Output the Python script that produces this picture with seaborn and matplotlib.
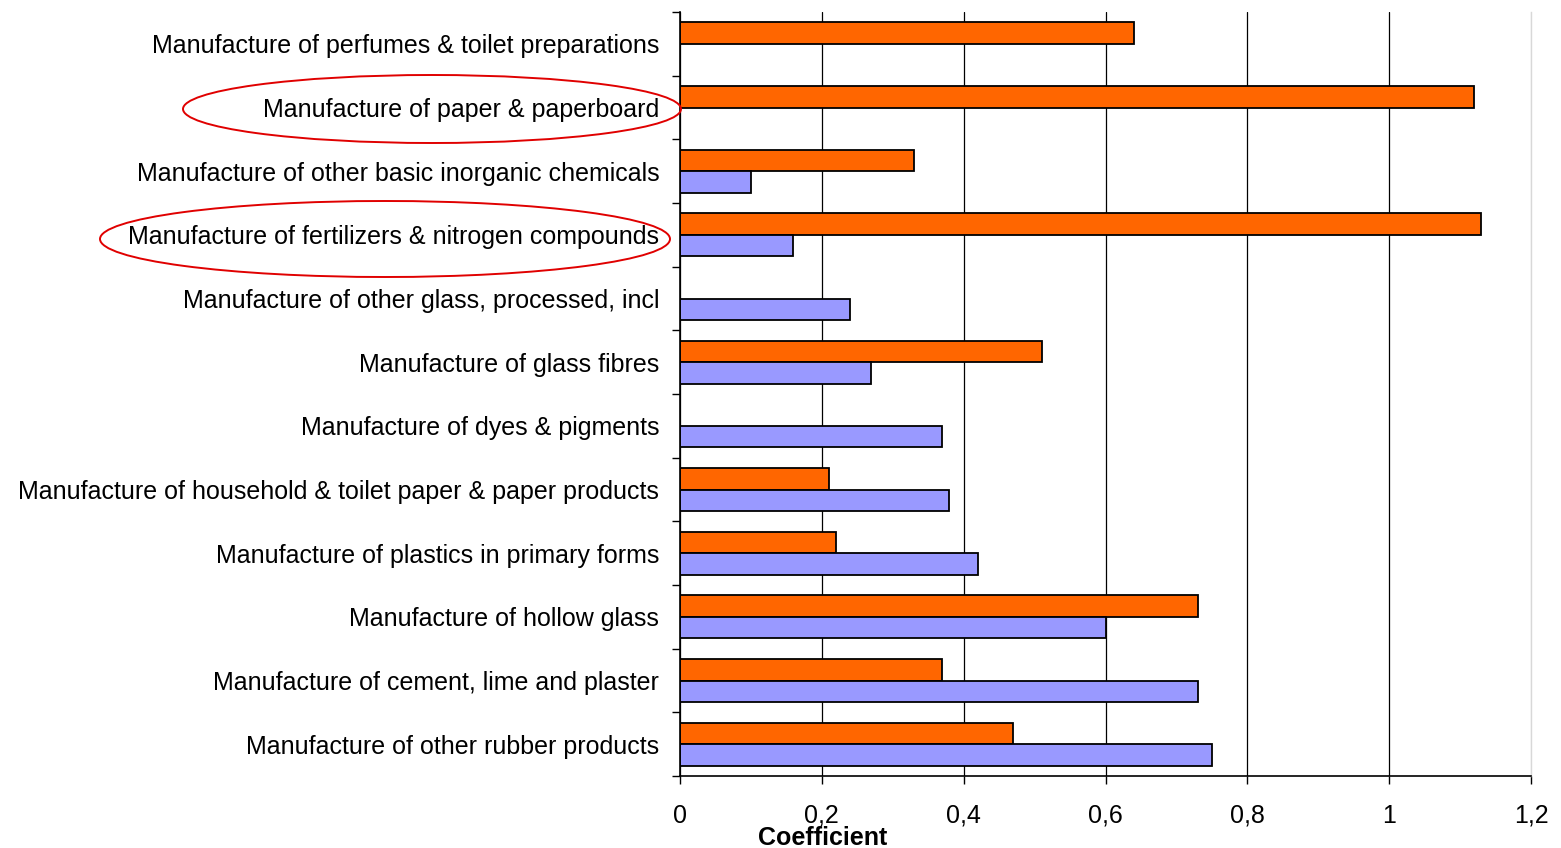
import numpy as np
import pandas as pd
import matplotlib
matplotlib.use("Agg")
import matplotlib.pyplot as plt
from matplotlib.patches import Ellipse
import seaborn as sns

# Industries, top to bottom
industries = [
    "Manufacture of perfumes & toilet preparations",
    "Manufacture of paper & paperboard",
    "Manufacture of other basic inorganic chemicals",
    "Manufacture of fertilizers & nitrogen compounds",
    "Manufacture of other glass, processed, incl",
    "Manufacture of glass fibres",
    "Manufacture of dyes & pigments",
    "Manufacture of household & toilet paper & paper products",
    "Manufacture of plastics in primary forms",
    "Manufacture of hollow glass",
    "Manufacture of cement, lime and plaster",
    "Manufacture of other rubber products",
]

# Coefficients per industry (NaN = no bar)
coef_orange = [0.64, 1.12, 0.33, 1.13, np.nan, 0.51, np.nan, 0.21, 0.22, 0.73, 0.37, 0.47]
coef_blue = [np.nan, np.nan, 0.10, 0.16, 0.24, 0.27, 0.37, 0.38, 0.42, 0.60, 0.73, 0.75]
series_names = ["Series 1", "Series 2"]

x_ticks = [0, 0.2, 0.4, 0.6, 0.8, 1.0, 1.2]
x_tick_labels = ["0", "0,2", "0,4", "0,6", "0,8", "1", "1,2"]

highlighted = [
    "Manufacture of paper & paperboard",
    "Manufacture of fertilizers & nitrogen compounds",
]

df = pd.DataFrame({
    "industry": industries * 2,
    "value": coef_orange + coef_blue,
    "series": [series_names[0]] * len(industries) + [series_names[1]] * len(industries),
})

sns.set_theme(style="white")
plt.rcParams["font.family"] = ["Liberation Sans", "DejaVu Sans"]
plt.rcParams["text.color"] = "black"
plt.rcParams["axes.labelcolor"] = "black"
plt.rcParams["xtick.color"] = "black"
plt.rcParams["ytick.color"] = "black"

W, H = 1561, 848
fig = plt.figure(figsize=(W / 100, H / 100), dpi=100)
ax = fig.add_axes([680 / W, 1 - 776 / H, (1531 - 680) / W, (776 - 12) / H])

sns.barplot(
    data=df, y="industry", x="value", hue="series", orient="h",
    order=industries, hue_order=series_names,
    palette=["#FF6600", "#9999FF"], saturation=1, width=0.68,
    edgecolor="black", linewidth=1.3, errorbar=None, legend=False, ax=ax,
)

ax.set_xlim(0, 1.2)
ax.set_ylim(len(industries) - 0.5, -0.5)
ax.set_xticks(x_ticks)
ax.set_xticklabels(x_tick_labels)
ax.set_ylabel("")
ax.set_xlabel("Coefficient", fontsize=18, fontweight="bold", color="black")
ax.xaxis.set_label_coords(0.168, -0.065)

ax.set_axisbelow(True)
ax.xaxis.grid(True, color="black", linewidth=0.9)
grid_lines = ax.xaxis.get_gridlines()
grid_lines[-1].set_color("#d8d8d8")

ax.set_yticks(np.arange(-0.5, len(industries), 1), minor=True)
ax.tick_params(axis="y", which="major", length=0, labelsize=18, pad=15, labelcolor="black")
ax.tick_params(axis="y", which="minor", length=6, width=1, color="black", direction="out", left=True)
ax.tick_params(axis="x", which="major", length=6, width=1, color="black", direction="out",
               bottom=True, labelsize=18, pad=14, labelcolor="black")

for side in ["left", "bottom"]:
    ax.spines[side].set_color("black")
    ax.spines[side].set_linewidth(1.2)
ax.spines["top"].set_visible(False)
ax.spines["right"].set_color("#d8d8d8")
ax.spines["right"].set_linewidth(1)

# Red ellipses around the highlighted industry labels (figure pixels: cx, cy, w, h)
ellipse_px = {
    highlighted[0]: (432, 109, 498, 68),
    highlighted[1]: (385, 239, 570, 76),
}
for name, (cx, cy, ew, eh) in ellipse_px.items():
    e = Ellipse((cx / W, 1 - cy / H), ew / W, eh / H, transform=fig.transFigure,
                fill=False, edgecolor="#E00000", linewidth=1.4)
    fig.add_artist(e)

fig.savefig("out.png", dpi=100)
